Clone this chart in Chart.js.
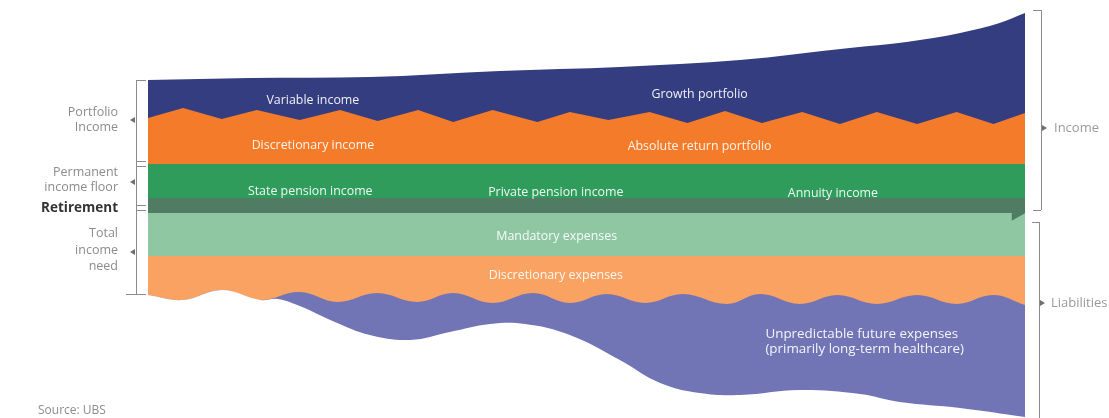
<!DOCTYPE html>
<html>
<head>
<meta charset="utf-8">
<script src="https://cdn.jsdelivr.net/npm/chart.js@4.4.1/dist/chart.umd.min.js"></script>
<style>
  html, body { margin: 0; padding: 0; background: #fff; }
  #wrap { position: relative; width: 1109px; height: 418px; }
</style>
</head>
<body>
<div id="wrap"><canvas id="flowChart"></canvas></div>
<script>
// Retirement income vs. liabilities (Source: UBS)
// x = position along the timeline (0..100), y = level, 0 = retirement line

// Top of the growth portfolio
const growthTopX = [0, 11.6, 25.3, 40.1, 53.8, 67.5, 80.0, 86.5, 92.6, 97.1, 100];
const growthTopY = [128, 130, 131, 137, 141, 148, 160, 166, 175, 185, 195];

// Zigzag between growth and absolute return portfolio
const absReturnTopX = [0, 4.0, 8.4, 12.4, 17.3, 21.9, 26.2, 30.8, 34.8, 39.3, 44.4, 48.1,
  52.5, 57.2, 61.5, 65.8, 70.0, 74.6, 78.9, 83.1, 87.7, 92.2, 96.4, 100];
const absReturnTopY = [90, 100, 89, 98, 88, 98, 87, 98, 86, 98, 86, 96,
  88, 96, 85, 97, 85, 96, 84, 96, 84, 96, 84, 95];

// Flat bands
const timelineX = [0, 100];
const pensionTopY = [44, 44];
const retirementTopY = [10, 10];
const mandatoryTopY = [-5, -5];
const discExpensesTopY = [-48, -48];

// Wavy top of the unpredictable expenses
const healthTopX = [0, 4.0, 8.4, 12.8, 17.3, 21.6, 26.1, 30.7, 34.8, 39.3, 43.9, 48.1,
  52.3, 56.7, 61.0, 66.0, 69.8, 74.3, 78.6, 83.1, 87.7, 92.2, 96.4, 100];
const healthTopY = [-87, -92, -82, -92, -84, -94, -85, -94, -85, -95, -85, -95,
  -86, -95, -86, -96, -86, -96, -87, -96, -87, -96, -87, -97];

// Lower edge of the unpredictable expenses
const healthBottomX = [0, 4.0, 8.4, 12.8, 14.8, 17.3, 21.3, 25.3, 29.9, 34.4, 39.0, 43.0,
  48.1, 53.8, 58.4, 62.9, 67.5, 74.3, 81.2, 85.7, 92.6, 100];
const healthBottomY = [-87, -92, -82, -92, -91, -98, -114, -127, -132, -124, -116, -116,
  -127, -152, -175, -185, -187, -182, -186, -194, -200, -209];

// Retirement arrow head
const arrowX = [99.0];
const arrowY = [-5];

const FONT = '"Open Sans", "DejaVu Sans", sans-serif';

function toPoints(xs, ys) {
  return xs.map((x, i) => ({ x: x, y: ys[i] }));
}

// Each band is filled from its top edge down to the bottom, painted top layer first
function band(label, xs, ys, color, order, opts) {
  return Object.assign({
    label: label,
    data: toPoints(xs, ys),
    backgroundColor: color,
    borderColor: color,
    borderWidth: 0,
    pointRadius: 0,
    fill: 'start',
    tension: 0,
    order: order
  }, opts || {});
}

// Band texts, brackets and side labels
const annotations = {
  id: 'annotations',
  afterDatasetsDraw(chart) {
    const ctx = chart.ctx;
    const xs = chart.scales.x;
    const ys = chart.scales.y;
    const px = v => xs.getPixelForValue(v);
    const py = v => ys.getPixelForValue(v);

    ctx.save();
    ctx.textBaseline = 'middle';

    // texts inside the bands
    const inner = [
      ['Variable income', 18.8, 108, 'center'],
      ['Growth portfolio', 62.9, 114, 'center'],
      ['Discretionary income', 18.8, 63, 'center'],
      ['Absolute return portfolio', 62.9, 62, 'center'],
      ['State pension income', 18.5, 17, 'center'],
      ['Private pension income', 46.5, 16, 'center'],
      ['Annuity income', 78.1, 15, 'center'],
      ['Mandatory expenses', 46.6, -28, 'center'],
      ['Discretionary expenses', 46.5, -67, 'center']
    ];
    ctx.fillStyle = 'rgba(255,255,255,0.92)';
    ctx.font = '12.4px ' + FONT;
    inner.forEach(t => {
      ctx.textAlign = t[3];
      ctx.fillText(t[0], px(t[1]), py(t[2]));
    });
    ctx.textAlign = 'left';
    ctx.font = '13.4px ' + FONT;
    ctx.fillText('Unpredictable future expenses', px(70.4), py(-126));
    ctx.fillText('(primarily long-term healthcare)', px(70.4), py(-141));

    // left labels
    const lx = chart.chartArea.left - 30;
    ctx.textAlign = 'right';
    ctx.fillStyle = '#8c8c8c';
    ctx.font = '12.5px ' + FONT;
    [['Portfolio', 96], ['Income', 81], ['Permanent', 36], ['income floor', 21],
     ['Total', -25], ['income', -42], ['need', -58]].forEach(t => {
      ctx.fillText(t[0], lx, py(t[1]));
    });
    ctx.fillStyle = '#333';
    ctx.font = 'bold 13.5px ' + FONT;
    ctx.fillText('Retirement', lx, py(0));

    // left bracket
    const bx = chart.chartArea.left - 12;
    ctx.strokeStyle = '#8c8c8c';
    ctx.fillStyle = '#6f6f6f';
    ctx.lineWidth = 1;
    ctx.beginPath();
    ctx.moveTo(bx + 0.5, py(128));
    ctx.lineTo(bx + 0.5, py(-86));
    [128, 47, 42, 3, -2].forEach(v => {
      ctx.moveTo(bx, py(v) + 0.5);
      ctx.lineTo(bx + 10, py(v) + 0.5);
    });
    ctx.moveTo(bx - 10, py(-86) + 0.5);
    ctx.lineTo(bx + 10, py(-86) + 0.5);
    ctx.stroke();
    [88, 26, -44].forEach(v => {
      const y = py(v);
      ctx.beginPath();
      ctx.moveTo(bx - 6, y);
      ctx.lineTo(bx - 1, y - 3);
      ctx.lineTo(bx - 1, y + 3);
      ctx.closePath();
      ctx.fill();
    });

    // right brackets
    const rx = chart.chartArea.right + 16;
    ctx.beginPath();
    ctx.moveTo(rx + 0.5, py(198));
    ctx.lineTo(rx + 0.5, py(-2));
    ctx.moveTo(rx - 8, py(198) + 0.5);
    ctx.lineTo(rx, py(198) + 0.5);
    ctx.moveTo(rx - 8, py(-2) + 0.5);
    ctx.lineTo(rx, py(-2) + 0.5);
    ctx.moveTo(rx - 1.5, py(-14));
    ctx.lineTo(rx - 1.5, py(-212));
    ctx.moveTo(rx - 9, py(-14) + 0.5);
    ctx.lineTo(rx - 1, py(-14) + 0.5);
    ctx.stroke();
    [[rx, 80], [rx - 2, -95]].forEach(a => {
      const y = py(a[1]);
      ctx.beginPath();
      ctx.moveTo(a[0] + 6, y);
      ctx.lineTo(a[0] + 1, y - 3);
      ctx.lineTo(a[0] + 1, y + 3);
      ctx.closePath();
      ctx.fill();
    });
    ctx.textAlign = 'left';
    ctx.fillStyle = '#9a9a9a';
    ctx.font = '13px ' + FONT;
    ctx.fillText('Income', rx + 13, py(80));
    ctx.fillText('Liabilities', rx + 10, py(-95));

    // source
    ctx.font = '12px ' + FONT;
    ctx.fillStyle = '#8c8c8c';
    ctx.fillText('Source: UBS', 38, 411);
    ctx.restore();
  }
};

function initializeChart() {
  const ctx = document.getElementById('flowChart');
  new Chart(ctx, {
    type: 'line',
    data: {
      datasets: [
        band('Growth portfolio', growthTopX, growthTopY, '#343d80', 10, { cubicInterpolationMode: 'monotone' }),
        band('Absolute return portfolio', absReturnTopX, absReturnTopY, '#f47b29', 9),
        band('Pension income', timelineX, pensionTopY, '#2f9c5c', 8),
        band('Retirement', timelineX, retirementTopY, '#4f7c62', 7),
        band('Mandatory expenses', timelineX, mandatoryTopY, '#8ec7a2', 6),
        band('Discretionary expenses', timelineX, discExpensesTopY, '#f9a262', 5),
        band('Unpredictable future expenses', healthTopX, healthTopY, '#7174b5', 4, { tension: 0.4 }),
        band('Lower edge', healthBottomX, healthBottomY, '#ffffff', 3, { tension: 0.4 }),
        {
          label: 'Retirement arrow',
          data: toPoints(arrowX, arrowY),
          showLine: false,
          fill: false,
          pointStyle: 'triangle',
          rotation: 90,
          pointRadius: 9,
          pointBackgroundColor: '#4f7c62',
          pointBorderWidth: 0,
          order: 1
        }
      ]
    },
    options: {
      responsive: true,
      maintainAspectRatio: false,
      animation: false,
      layout: { autoPadding: false, padding: { left: 148, right: 84, top: 0, bottom: 0 } },
      plugins: {
        legend: { display: false },
        tooltip: { enabled: false }
      },
      scales: {
        x: { type: 'linear', min: 0, max: 100, display: false },
        y: { min: -210, max: 208, display: false }
      }
    },
    plugins: [annotations]
  });
}

document.addEventListener('DOMContentLoaded', initializeChart);
</script>
</body>
</html>
